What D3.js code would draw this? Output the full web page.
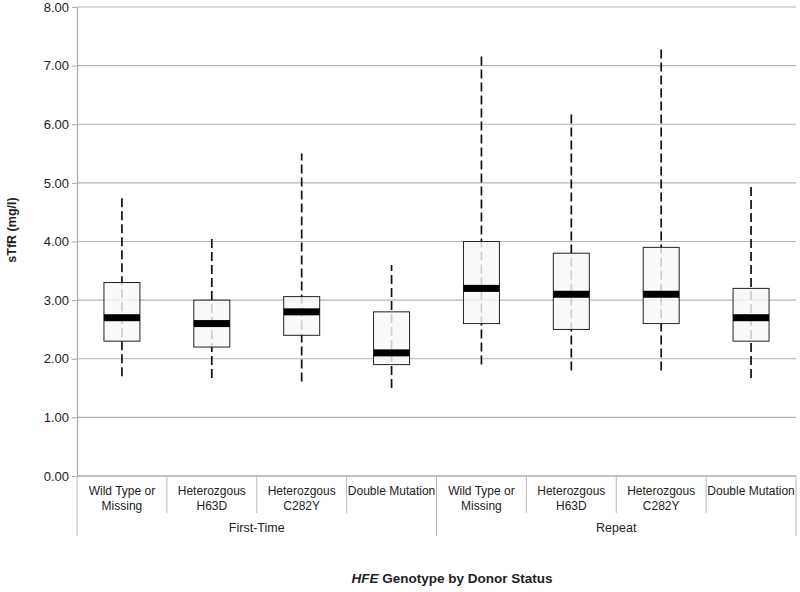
<!DOCTYPE html>
<html><head><meta charset="utf-8">
<script src="https://cdn.jsdelivr.net/npm/d3@7"></script>
<style>body{margin:0;background:#fff;font-family:"Liberation Sans",Arial,sans-serif}</style>
</head><body>
<svg id="c" width="800" height="592"></svg>
<script>
const groups = ["First-Time", "Repeat"];
const genotypes = [["Wild Type or", "Missing"], ["Heterozgous", "H63D"], ["Heterozgous", "C282Y"], ["Double Mutation"]];
const categories = ["FT-WT", "FT-H63D", "FT-C282Y", "FT-DM", "R-WT", "R-H63D", "R-C282Y", "R-DM"];
const whiskerLow  = [1.7, 1.67, 1.61, 1.5, 1.9, 1.8, 1.8, 1.67];
const q1          = [2.3, 2.2, 2.4, 1.9, 2.6, 2.5, 2.6, 2.3];
const median      = [2.7, 2.6, 2.8, 2.1, 3.2, 3.1, 3.1, 2.7];
const q3          = [3.3, 3.0, 3.06, 2.8, 4.0, 3.8, 3.9, 3.2];
const whiskerHigh = [4.8, 4.1, 5.5, 3.6, 7.2, 6.2, 7.3, 5.0];
const yTicks = [0, 1, 2, 3, 4, 5, 6, 7, 8];

const svg = d3.select("#c");
const L = 77, R = 796, T = 7, B = 476;
const x = d3.scaleBand().domain(categories).range([L, R]).padding(0);
const y = d3.scaleLinear().domain([0, 8]).range([B, T]);

// grid
svg.append("g").selectAll("line").data(yTicks).join("line")
  .attr("x1", L).attr("x2", R).attr("y1", d => y(d)).attr("y2", d => y(d))
  .attr("stroke", "#b3b3b3").attr("stroke-width", 1.2);

// y axis
const ya = svg.append("g").attr("transform", `translate(${L},0)`)
  .call(d3.axisLeft(y).tickValues(yTicks).tickFormat(d3.format(".2f")).tickSize(5).tickSizeOuter(0));
ya.select(".domain").attr("stroke", "#aaa").attr("stroke-width", 1.2);
ya.selectAll(".tick line").attr("stroke", "#aaa");
ya.selectAll("text").attr("font-size", 13).attr("fill", "#222").attr("font-family", "Liberation Sans, Arial");

// boxes
const bw = 36;
const g = svg.append("g");
categories.forEach((c, i) => {
  const cx = x(c) + x.bandwidth() / 2;
  g.append("line").attr("x1", cx).attr("x2", cx)
    .attr("y1", y(whiskerLow[i])).attr("y2", y(whiskerHigh[i]))
    .attr("stroke", "#111").attr("stroke-width", 1.7).attr("stroke-dasharray", "9,4");
  g.append("rect").attr("x", cx - bw / 2).attr("width", bw)
    .attr("y", y(q3[i])).attr("height", y(q1[i]) - y(q3[i]))
    .attr("fill", "#f7f8fa").attr("fill-opacity", 0.82)
    .attr("stroke", "#222").attr("stroke-width", 1);
  g.append("rect").attr("x", cx - bw / 2).attr("width", bw)
    .attr("y", y(median[i]) - 3.5).attr("height", 7).attr("fill", "#000");
});

// category axis
const ax = svg.append("g");
ax.append("line").attr("x1", L).attr("x2", R).attr("y1", B).attr("y2", B).attr("stroke", "#aaa").attr("stroke-width", 1.2);
categories.forEach((c, i) => {
  const x0 = x(c), x1 = x0 + x.bandwidth();
  if (i % 4 !== 0) ax.append("line").attr("x1", x0).attr("x2", x0).attr("y1", B).attr("y2", 513).attr("stroke", "#bbb");
  const lines = genotypes[i % 4];
  lines.forEach((t, k) => {
    ax.append("text").attr("x", (x0 + x1) / 2).attr("y", 495 + k * 15)
      .attr("text-anchor", "middle").attr("font-size", 12).attr("fill", "#222").text(t);
  });
});
[L, x(categories[4]), R].forEach(xx => ax.append("line").attr("x1", xx).attr("x2", xx).attr("y1", B).attr("y2", 536).attr("stroke", "#bbb"));
groups.forEach((gname, k) => {
  const x0 = x(categories[k * 4]), x1 = x(categories[k * 4 + 3]) + x.bandwidth();
  ax.append("text").attr("x", (x0 + x1) / 2).attr("y", 532).attr("text-anchor", "middle")
    .attr("font-size", 12.5).attr("fill", "#222").text(gname);
});

// titles
svg.append("text").attr("transform", `translate(16,230) rotate(-90)`)
  .attr("text-anchor", "middle").attr("font-size", 12.5).attr("font-weight", "bold").attr("fill", "#222").text("sTfR (mg/l)");
const xt = svg.append("text").attr("x", 452).attr("y", 583).attr("text-anchor", "middle")
  .attr("font-size", 13.5).attr("font-weight", "bold").attr("fill", "#222");
xt.append("tspan").attr("font-style", "italic").text("HFE");
xt.append("tspan").text(" Genotype by Donor Status");
</script>
</body></html>
